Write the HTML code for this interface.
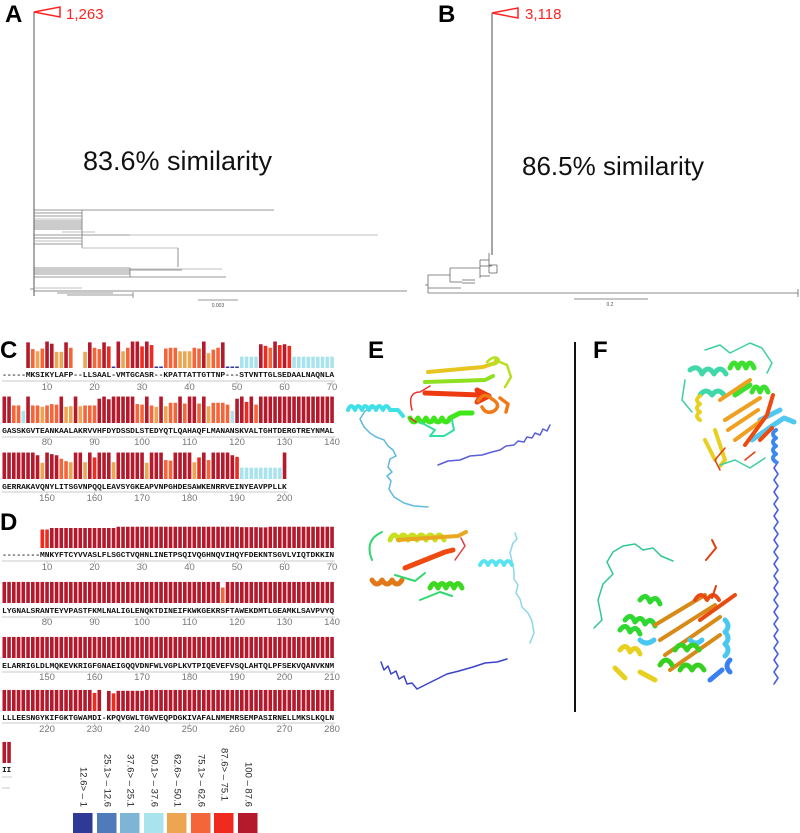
<!DOCTYPE html>
<html><head><meta charset="utf-8">
<style>
html,body{margin:0;padding:0;background:#fff;}
body{width:800px;height:833px;overflow:hidden;}
svg{display:block;font-family:"Liberation Sans",sans-serif;}
.mono{font-family:"Liberation Mono",monospace;font-weight:bold;}
</style></head>
<body>
<svg id="fig" width="800" height="833" viewBox="0 0 800 833">
  <text x="5" y="22" font-size="24" font-weight="bold">A</text>
  <text x="438" y="22" font-size="24" font-weight="bold">B</text>
  <text x="0" y="358" font-size="24" font-weight="bold">C</text>
  <text x="0" y="530" font-size="24" font-weight="bold">D</text>
  <text x="368" y="358" font-size="24" font-weight="bold">E</text>
  <text x="593" y="358" font-size="24" font-weight="bold">F</text>

  <!-- Tree A -->
  <g id="treeA" stroke="#777" stroke-width="0.8" fill="none">
    <polygon points="34,12 60,7 60,17" stroke="#f22" stroke-width="1.5" fill="none"/>
    <line x1="34" y1="12" x2="34" y2="296" stroke="#555" stroke-width="1"/>
    <line x1="34" y1="210" x2="82" y2="210"/><line x1="82" y1="210" x2="274" y2="210"/>
    <line x1="34" y1="213" x2="82" y2="213"/><line x1="34" y1="216" x2="82" y2="216"/>
    <line x1="34" y1="219" x2="82" y2="219" stroke="#aaa"/><line x1="34" y1="221" x2="82" y2="221"/>
    <line x1="34" y1="223" x2="82" y2="223"/><line x1="34" y1="225" x2="82" y2="225"/>
    <line x1="34" y1="227" x2="82" y2="227"/><line x1="34" y1="229" x2="82" y2="229"/>
    <line x1="62" y1="232" x2="95" y2="232" stroke="#aaa"/>
    <line x1="34" y1="235" x2="130" y2="235"/><line x1="130" y1="235" x2="378" y2="235" stroke="#aaa"/>
    <line x1="34" y1="238" x2="82" y2="238"/><line x1="34" y1="241" x2="82" y2="241" stroke="#aaa"/>
    <line x1="34" y1="244" x2="82" y2="244"/>
    <line x1="82" y1="210" x2="82" y2="248"/>
    <line x1="82" y1="248" x2="178" y2="248" stroke="#aaa"/><line x1="178" y1="248" x2="178" y2="267"/>
    <line x1="34" y1="268" x2="130" y2="268"/><line x1="130" y1="269" x2="222" y2="269" stroke="#aaa"/>
    <line x1="34" y1="270" x2="182" y2="270"/><line x1="34" y1="272" x2="130" y2="272"/>
    <line x1="34" y1="274" x2="130" y2="274"/>
    <line x1="34" y1="277" x2="226" y2="277"/><line x1="130" y1="268" x2="130" y2="277"/>
    <line x1="30" y1="289" x2="34" y2="289"/>
    <line x1="34" y1="288" x2="82" y2="288" stroke="#aaa"/>
    <line x1="34" y1="291" x2="407" y2="291" stroke="#666"/>
    <line x1="57" y1="293" x2="113" y2="293"/><line x1="67" y1="295" x2="133" y2="295"/>
    <line x1="133" y1="292" x2="133" y2="298"/>
    <line x1="198" y1="300" x2="238" y2="300"/>
    <text x="218" y="307" font-size="5" fill="#555" stroke="none" text-anchor="middle">0.003</text>
  </g>
  <text x="66" y="19" font-size="15" fill="#f22">1,263</text>
  <text x="83" y="170" font-size="27" fill="#111">83.6% similarity</text>

  <!-- Tree B -->
  <g id="treeB" stroke="#666" stroke-width="0.8" fill="none">
    <polygon points="492,13 518,8 518,18" stroke="#f22" stroke-width="1.5" fill="none"/>
    <line x1="492" y1="13" x2="492" y2="255" stroke="#888" stroke-width="1.5"/>
    <line x1="489" y1="253" x2="489" y2="273"/>
    <line x1="480" y1="266" x2="492" y2="266"/>
    <line x1="480" y1="260" x2="480" y2="278"/>
    <line x1="480" y1="260" x2="489" y2="260"/>
    <line x1="489" y1="265" x2="497" y2="265"/><line x1="489" y1="273" x2="497" y2="273"/><line x1="497" y1="265" x2="497" y2="273"/>
    <line x1="480" y1="276" x2="490" y2="276"/>
    <line x1="450" y1="268" x2="450" y2="282"/><line x1="450" y1="268" x2="480" y2="268"/>
    <line x1="450" y1="282" x2="462" y2="282"/><line x1="462" y1="280" x2="475" y2="280"/><line x1="462" y1="283" x2="475" y2="283"/>
    <line x1="428" y1="275" x2="428" y2="293"/><line x1="428" y1="275" x2="450" y2="275"/>
    <line x1="425" y1="285" x2="428" y2="285"/>
    <line x1="428" y1="288" x2="461" y2="288"/>
    <line x1="428" y1="293" x2="798" y2="293"/><line x1="798" y1="289" x2="798" y2="297"/>
    <line x1="574" y1="299" x2="648" y2="299"/>
    <text x="610" y="306" font-size="5" fill="#555" stroke="none" text-anchor="middle">0.2</text>
  </g>
  <text x="525" y="19" font-size="15" fill="#f22">3,118</text>
  <text x="522" y="175" font-size="26" fill="#111">86.5% similarity</text>

  <g id="consC"></g>
  <g id="consD"></g>
  <g id="legend"></g>

  <line x1="575" y1="342" x2="575" y2="712" stroke="#111" stroke-width="2"/>

  <!-- Protein E top -->
  <g fill="none" stroke-linecap="round" stroke-linejoin="round">
    <path d="M550,425 l-3,6 l-4,-2 l-3,6 l-5,-2 l-3,5 l-5,-1 l-3,5 l-6,-1 l-4,4 l-8,1 l-6,4 l-8,2 l-10,3 l-12,1 l-10,4 l-12,1 l-10,4" stroke="#5a5ed8" stroke-width="1.5"/>
    <path d="M428,507 l-14,-1 l-10,-3 l-10,-6 l-5,-8 l2,-8 l-4,-5 l5,-4 l-4,-5 l2,-8 l6,-3 l-3,-6 l-5,-4 l-4,-6 l-8,-3 l-6,-4 l-6,-6 l-4,-8 l5,-8 l8,-3" stroke="#5fb8e0" stroke-width="1.5"/>
    <path d="M348,410 q3,-8 7,0 q3,-8 7,0 q3,-8 7,0 q3,-8 7,0 q3,-8 7,0 q3,-8 7,0 l8,0 l5,6" stroke="#40e0e8" stroke-width="4"/>
    <path d="M410,418 q4,8 8,0 q4,8 8,0 q4,8 8,0 q4,8 8,0 q4,8 8,0 l10,-5 l12,0" stroke="#3ee61a" stroke-width="5"/>
    <path d="M425,393 l55,2 l-3,-5 l12,6 l-12,6 l3,-5" stroke="#ee3a10" stroke-width="5"/>
    <path d="M425,382 l60,-2 l8,-4" stroke="#8ee020" stroke-width="4"/>
    <path d="M428,372 l55,-5 l12,-4" stroke="#e8c420" stroke-width="4"/>
    <path d="M478,401 q6,-10 14,-2 q10,6 2,12 q-8,4 -12,-4 M500,398 l8,6 l-2,8" stroke="#f07a18" stroke-width="3.5"/>
    <path d="M487,362 q8,-8 12,-2 q-2,6 -10,4 M495,360 l12,5 l4,12 l-6,10" stroke="#b8e020" stroke-width="2.5"/>
    <path d="M420,422 l15,8 l-5,6 l14,0 l10,-6 l-2,-10" stroke="#30e0a0" stroke-width="2"/>
    <path d="M412,410 q-5,-18 8,-18 l10,-6 M410,418 l6,4" stroke="#ee3030" stroke-width="1.5"/>
  </g>

  <!-- Protein E bottom -->
  <g fill="none" stroke-linecap="round" stroke-linejoin="round">
    <path d="M381,662 l3,8 l4,-4 l3,8 l5,-3 l3,8 l5,-3 l3,8 l5,-1 l5,6 l8,-4 l10,-5 l12,-6 l12,-3 l14,-4 l12,-4 l12,-1 l10,-3" stroke="#3a44c8" stroke-width="1.5"/>
    <path d="M530,643 l4,-10 l-2,-12 l-4,-8 l-6,-6 l-2,-8 l-4,-6 l2,-8 l-4,-6 l0,-8 l-2,-10 l-2,-8 l3,-10 l4,-4 l-2,-6" stroke="#8ed6e6" stroke-width="1.5"/>
    <path d="M480,565 q4,-8 8,0 q4,-8 8,0 q4,-8 8,0 q4,-8 8,0" stroke="#5ce2ee" stroke-width="4"/>
    <path d="M372,580 q5,8 10,0 q5,8 10,0 q5,8 10,0" stroke="#e07a18" stroke-width="5"/>
    <path d="M390,540 q4,-10 9,0 q4,-10 9,0 q4,-10 9,0 q4,-10 9,0 q4,-10 9,0 q4,-10 9,0" stroke="#c8e020" stroke-width="5"/>
    <path d="M398,540 l60,-4 l8,-4" stroke="#e8a820" stroke-width="4"/>
    <path d="M405,568 l40,-16 l8,-2" stroke="#ee4a10" stroke-width="5"/>
    <path d="M430,588 q4,-9 8,0 q4,-9 8,0 q4,-9 8,0 q4,-9 8,0" stroke="#3ed820" stroke-width="5"/>
    <path d="M372,560 q-8,-20 10,-28 M420,600 l20,-8 l12,4 M395,575 l20,6 l10,-8" stroke="#30d870" stroke-width="2"/>
    <path d="M455,560 l10,-14 l-4,-8" stroke="#e04040" stroke-width="1.5"/>
  </g>

  <!-- Protein F top -->
  <g fill="none" stroke-linecap="round" stroke-linejoin="round">
    <path d="M778,462 l-4,6 l4,6 l-4,6 l4,6 l-4,6 l4,6 l-4,6 l4,6 l-4,6 l4,6 l-4,6 l4,6 l-4,6 l4,6 l-4,6 l4,6 l-4,6 l4,6 l-4,6 l4,6 l-4,6 l4,6 l-4,6 l4,6 l-4,6 l4,6 l-4,6 l4,6 l-4,6 l4,6 l-4,6 l4,6 l-4,6 l4,6 l-4,6 l4,6 l-4,6" stroke="#4a60e0" stroke-width="1.6"/>
    <path d="M776,462 q-6,-4 0,-8 q-6,-4 0,-8 q-6,-4 0,-8 q-6,-4 0,-8" stroke="#3a88f0" stroke-width="4"/>
    <path d="M752,440 l20,-14 l12,-8 l10,4 M760,420 l20,-10" stroke="#50c8f0" stroke-width="5"/>
    <path d="M690,370 q8,-6 12,4 q6,-10 12,0 q6,-10 12,0 M700,395 q6,-8 12,0 q6,-8 12,0" stroke="#40d8a8" stroke-width="5"/>
    <path d="M730,368 q4,-10 8,0 q4,-10 8,0 q4,-10 8,0 M735,395 l15,-10 M752,392 q4,-10 8,0 q4,-10 8,0" stroke="#3ee030" stroke-width="5"/>
    <path d="M720,400 l30,-20 M725,420 l35,-22 M735,440 l30,-22 M728,430 l30,-20" stroke="#f0a020" stroke-width="4"/>
    <path d="M745,445 l22,-30 l6,-20 M760,440 l12,-12" stroke="#ee4a10" stroke-width="4"/>
    <path d="M700,420 q-6,-4 0,-8 q-6,-4 0,-8 q-6,-4 0,-8 M715,430 l10,30 l-5,6 M705,440 l10,20" stroke="#e8d020" stroke-width="4"/>
    <path d="M705,350 l15,-5 l10,8 l20,-10 l12,5 l10,15 l-5,10 M685,380 l-3,20 l10,12 M720,465 l15,-5 l15,8 l15,-10" stroke="#3ed0a0" stroke-width="1.5"/>
    <path d="M720,470 l-5,-10 l10,-12 M745,460 l10,-8" stroke="#e04010" stroke-width="1.5"/>
  </g>

  <!-- Protein F bottom -->
  <g fill="none" stroke-linecap="round" stroke-linejoin="round">
    <path d="M673,561 l-12,-5 l-8,-8 l-10,2 l-8,-6 l-12,2 l-10,6 l-6,10 l6,12 l-10,10 l-5,16 l4,20 l-8,8" stroke="#30c890" stroke-width="1.5"/>
    <path d="M625,620 q6,-8 10,2 q6,-8 10,2 q6,-8 10,2 M640,600 q6,-8 10,2 q6,-8 10,2 M620,630 q6,-8 10,2 q6,-8 10,2" stroke="#2ed830" stroke-width="5"/>
    <path d="M620,650 q6,-8 10,2 q6,-8 10,2 M640,672 l15,8 M615,668 l10,10" stroke="#e8d020" stroke-width="5"/>
    <path d="M660,640 l55,-35 M665,655 l55,-38 M670,670 l50,-35 M655,625 l50,-30" stroke="#d88a18" stroke-width="4"/>
    <path d="M700,620 l35,-25 M695,600 q6,-10 12,0 q6,-10 12,0" stroke="#e84a10" stroke-width="4"/>
    <path d="M706,560 l10,-12 l-4,-8 M712,598 l4,-12" stroke="#e04010" stroke-width="2"/>
    <path d="M725,620 q6,6 0,12 q6,6 0,12 q6,6 0,12 M640,640 q6,6 14,0 M690,640 q6,6 12,0" stroke="#48c8f0" stroke-width="5"/>
    <path d="M730,660 q-6,6 0,12 M710,680 l12,-10" stroke="#3a80f0" stroke-width="5"/>
    <path d="M675,650 q6,-10 12,0 q6,-10 12,0 M680,670 q6,-10 12,0 q6,-10 12,0 M660,665 q6,-10 12,0" stroke="#38d020" stroke-width="5"/>
  </g>
</svg>

<script>
const cSeqs = [
  "-----MKSIKYLAFP--LLSAAL-VMTGCASR--KPATTATTGTTNP---STVNTTGLSEDAALNAQNLA",
  "GASSKGVTEANKAALAKRVVHFDYDSSDLSTEDYQTLQAHAQFLMANANSKVALTGHTDERGTREYNMAL",
  "GERRAKAVQNYLITSGVNPQQLEAVSYGKEAPVNPGHDESAWKENRRVEINYEAVPPLLK"
];
const cRow1 = [0,0,0,0,0, 95,70,62,72,98, 90,60,60,95,75, 0,0,60,95,75, 70,95,80,5,98, 62,75,98,98,80, 98,85,5,5,72, 75,75,62,62,62, 75,72,98,55,68, 75,95,4,4,4, 42,42,42,42,88, 82,75,98,85,88, 82,42,42,42,42, 42,42,42,42,42];
const cRow2 = [98,98,65,65,45, 98,65,65,60,65, 70,68,98,60,62, 98,62,65,65,65, 90,98,88,98,98, 98,98,98,70,68, 98,65,60,98,62, 75,75,98,72,98, 98,72,98,62,75, 75,75,68,45,90, 98,78,98,68,98, 98,98,98,98,98, 98,98,98,98,98, 98,98,98,98,98];
const cRow3 = [98,98,98,98,98, 98,98,88,60,98, 92,88,75,66,62, 98,98,62,98,80, 98,98,98,62,98, 98,98,98,98,98, 60,98,98,98,70, 68,98,98,98,98, 62,80,98,70,98, 98,98,98,88,82, 42,42,42,42,42, 42,42,42,42,98];
const cStarts = [1, 71, 141];

const dSeqs = [
  "--------MNKYFTCYVVASLFLSGCTVQHNLINETPSQIVQGHNQVIHQYFDEKNTSGVLVIQTDKKIN",
  "LYGNALSRANTEYVPASTFKMLNALIGLENQKTDINEIFKWKGEKRSFTAWEKDMTLGEAMKLSAVPVYQ",
  "ELARRIGLDLMQKEVKRIGFGNAEIGQQVDNFWLVGPLKVTPIQEVEFVSQLAHTQLPFSEKVQANVKNM",
  "LLLEESNGYKIFGKTGWAMDI-KPQVGWLTGWVEQPDGKIVAFALNMEMRSEMPASIRNELLMKSLKQLN",
  "II"
];
const dRow1 = [0,0,0,0,0,0,0,0, 86,86, 93,93,93,93,93,93,93,93,93,93,93,93,93,93, 99,99,99,99,99,99,99,99,99,99,99,99,99,99,99,99,99,99,99,99,99,99,99,99,99,99,97,97,97,97,96,96,99,99,99,99,99,99,99,99,99,99,99,99,99,99];
const dRow2 = [98,98,98,98,98,98,98,98,98,98,98,98,98,98,98,98,98,98,98,98,98,98,98,98,98,98,98,98,98,98,98,98,98,98,98,98,98,98,98,98,98,98,98,98,98,98,72,98,98,98,98,98,98,98,98,98,98,98,98,98,98,98,98,98,98,98,98,98,98,98];
const dRow3 = [98,98,98,98,98,98,98,98,98,98,98,98,98,98,98,98,98,98,98,98,98,98,98,98,98,98,98,98,98,98,98,98,98,98,98,98,98,98,98,98,98,98,98,98,98,98,98,98,98,98,98,98,98,98,98,98,98,98,98,98,98,98,98,98,98,98,98,98,98,98];
const dRow4 = [98,98,98,98,98,98,98,98,98,98,98,98,98,98,98,98,98,98,98,84,98,0,93,82,94,94,94,94,94,94,98,98,98,98,98,98,98,98,98,98,98,98,98,98,98,98,98,98,98,98,98,98,98,98,98,98,98,98,98,98,98,98,98,98,98,98,98,98,98,98];
const dRow5 = [98,98];
const dStarts = [1, 71, 141, 211, 281];

const binColors = ["#2f3a96","#4f7bbb","#7fb5d4","#a9e4ee","#eda552","#f4653a","#ef2a1f","#b5192c"];
const binLabels = ["12.6> \u2013 1","25.1> \u2013 12.6","37.6> \u2013 25.1","50.1> \u2013 37.6","62.6> \u2013 50.1","75.1> \u2013 62.6","87.6> \u2013 75.1","100 \u2013 87.6"];

const NS = "http://www.w3.org/2000/svg";
const step = 4.75, x0 = 4.3, barW = 3.6;
function xOf(i){ return x0 + i*step; }
function binOf(v){ return Math.min(7, Math.max(0, Math.ceil(v/12.5)-1)); }
function mk(tag){ return document.createElementNS(NS, tag); }

function drawRow(g, seq, vals, start, bottom, maxH, textY, lineY, numY, showNums){
  for(let i=0;i<vals.length;i++){
    const v = vals[i];
    if(v<=0) continue;
    const h = Math.max(1.5, v/100*maxH);
    const r = mk("rect");
    r.setAttribute("x", (xOf(i)-barW/2).toFixed(2));
    r.setAttribute("y", (bottom-h).toFixed(2));
    r.setAttribute("width", barW);
    r.setAttribute("height", h.toFixed(2));
    r.setAttribute("fill", binColors[binOf(v)]);
    
    
    g.appendChild(r);
  }
  const t = mk("text");
  t.setAttribute("x", (xOf(0)-2.2).toFixed(2));
  t.setAttribute("y", textY);
  t.setAttribute("font-size", "7.2");
  t.setAttribute("class", "mono");
  t.setAttribute("fill", "#111");
  t.setAttribute("textLength", (seq.length*step - 0.4).toFixed(2));
  t.setAttribute("lengthAdjust", "spacingAndGlyphs");
  t.textContent = seq;
  
  
  g.appendChild(t);
  const ln = mk("line");
  ln.setAttribute("x1", 2); ln.setAttribute("x2", (xOf(seq.length-1)+3).toFixed(2));
  ln.setAttribute("y1", lineY); ln.setAttribute("y2", lineY);
  ln.setAttribute("stroke", "#c8c8c8"); ln.setAttribute("stroke-width", "1");
  
  
  g.appendChild(ln);
  if(!showNums) return;
  for(let i=0;i<seq.length;i++){
    const n = start+i;
    if(n%10!==0) continue;
    const tk = mk("line");
    tk.setAttribute("x1", xOf(i).toFixed(2)); tk.setAttribute("x2", xOf(i).toFixed(2));
    tk.setAttribute("y1", lineY); tk.setAttribute("y2", lineY+3);
    tk.setAttribute("stroke", "#c8c8c8");
    
    
    g.appendChild(tk);
    const nt = mk("text");
    nt.setAttribute("x", xOf(i).toFixed(2));
    nt.setAttribute("y", numY);
    nt.setAttribute("font-size", "9.5");
    nt.setAttribute("fill", "#777");
    nt.setAttribute("text-anchor", "middle");
    nt.textContent = String(n);
    
    
    g.appendChild(nt);
  }
}

const gC = document.getElementById("consC");
const cVals = [cRow1, cRow2, cRow3];
const cBottom = [368, 423, 479], cText = [377, 433, 489], cLine = [381, 437, 492], cNum = [390, 445, 501];
for(let r=0;r<3;r++) drawRow(gC, cSeqs[r], cVals[r], cStarts[r], cBottom[r], 27, cText[r], cLine[r], cNum[r], true);

const gD = document.getElementById("consD");
const dVals = [dRow1, dRow2, dRow3, dRow4, dRow5];
const dBottom = [548, 603, 658, 711, 763], dText = [557, 613, 668, 720, 772], dLine = [561, 617, 672, 723, 777], dNum = [570, 625, 680, 732, 0];
for(let r=0;r<5;r++) drawRow(gD, dSeqs[r], dVals[r], dStarts[r], dBottom[r], 21.5, dText[r], dLine[r], dNum[r], r<4);
const extra = mk("line");
extra.setAttribute("x1", 2); extra.setAttribute("x2", 10); extra.setAttribute("y1", 788); extra.setAttribute("y2", 788);
extra.setAttribute("stroke", "#c8c8c8");


gD.appendChild(extra);

const gL = document.getElementById("legend");
const legX = [73, 97, 120, 144, 167, 191, 214, 238];
const legTop = [767, 754, 754, 754, 754, 754, 748, 762];
for(let k=0;k<8;k++){
  const sw = mk("rect");
  sw.setAttribute("x", legX[k]); sw.setAttribute("y", 813);
  sw.setAttribute("width", 19.5); sw.setAttribute("height", 20);
  sw.setAttribute("fill", binColors[k]);
  
  
  gL.appendChild(sw);
  const lt = mk("text");
  lt.setAttribute("transform", "translate(" + (legX[k]+10) + "," + legTop[k] + ") rotate(90)");
  lt.setAttribute("font-size", "9.5");
  lt.setAttribute("fill", "#222");
  lt.setAttribute("dominant-baseline", "middle");
  lt.textContent = binLabels[k];
  
  
  gL.appendChild(lt);
}
</script>
</body></html>
